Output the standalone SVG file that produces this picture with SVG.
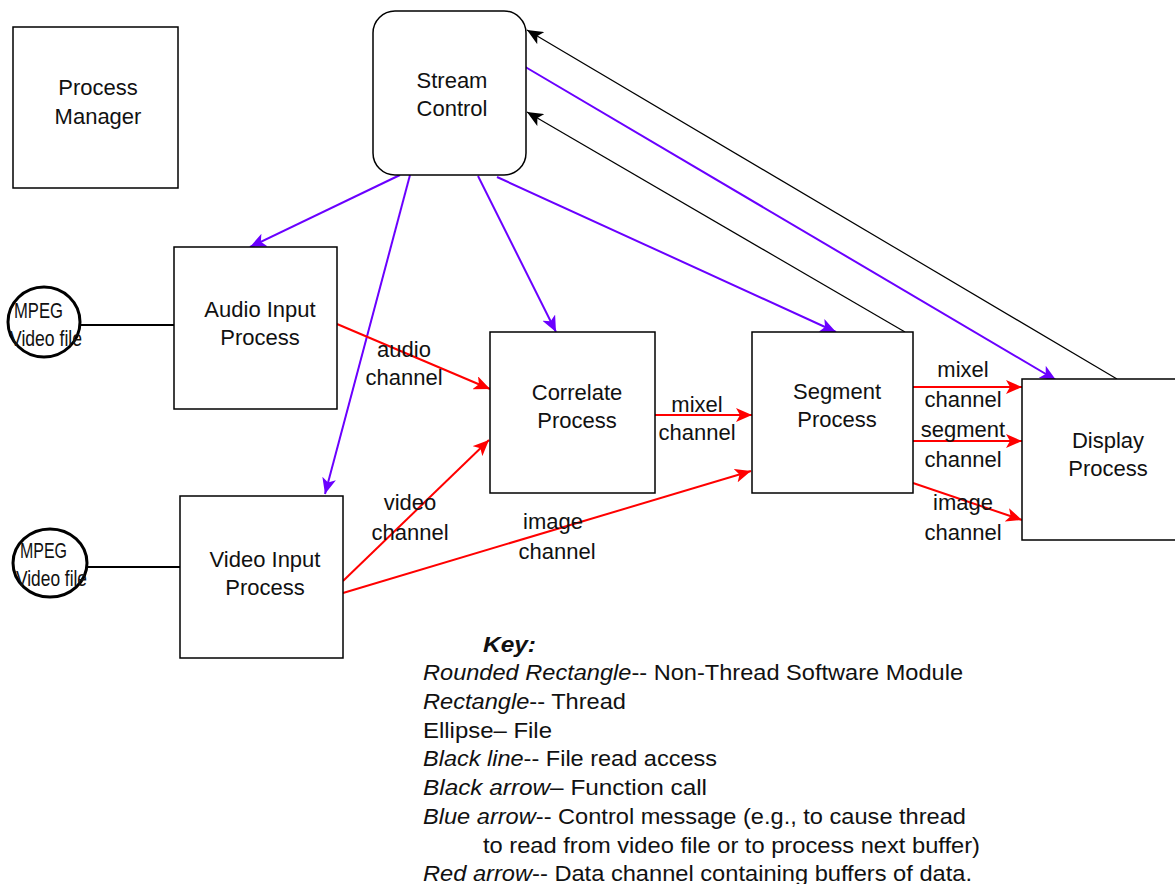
<svg xmlns="http://www.w3.org/2000/svg" width="1175" height="884" viewBox="0 0 1175 884">
<style>
.box{fill:#fff;stroke:#000;stroke-width:1.5}
.t{font-family:"Liberation Sans",Arial,sans-serif;font-size:22px;fill:#111;text-anchor:middle}
.k{font-family:"Liberation Sans",Arial,sans-serif;font-size:22px;fill:#111}
.i{font-style:italic}
.blue{stroke:#6a00ff;stroke-width:2;fill:none}
.red{stroke:#ff0000;stroke-width:2;fill:none}
.blk{stroke:#000;stroke-width:1.2;fill:none}
.fl{stroke:#000;stroke-width:2;fill:none}
.m{font-family:"Liberation Sans",Arial,sans-serif;font-size:22px;fill:#111}
</style>
<defs>
<marker id="ab" markerUnits="userSpaceOnUse" markerWidth="18" markerHeight="14" refX="16" refY="7" orient="auto"><path d="M0,0 L16,7 L0,14 L4,7 Z" fill="#6a00ff"/></marker>
<marker id="ar" markerUnits="userSpaceOnUse" markerWidth="18" markerHeight="14" refX="16" refY="7" orient="auto"><path d="M0,0 L16,7 L0,14 L4,7 Z" fill="#ff0000"/></marker>
<marker id="ak" markerUnits="userSpaceOnUse" markerWidth="18" markerHeight="14" refX="16" refY="7" orient="auto"><path d="M0,0 L16,7 L0,14 L4,7 Z" fill="#000"/></marker>
</defs>
<rect width="1175" height="884" fill="#fff"/>
<g id="connectors">
<line class="fl" x1="80" y1="325" x2="174" y2="325"/>
<line class="fl" x1="87" y1="567" x2="180" y2="567"/>
<line class="blue" x1="400" y1="175" x2="250" y2="247" marker-end="url(#ab)"/>
<line class="blue" x1="410" y1="175" x2="325" y2="494" marker-end="url(#ab)"/>
<line class="blue" x1="478" y1="176" x2="556" y2="332" marker-end="url(#ab)"/>
<line class="blue" x1="497" y1="177" x2="836" y2="332" marker-end="url(#ab)"/>
<line class="blue" x1="522" y1="65" x2="1056" y2="380" marker-end="url(#ab)"/>
<line class="blk" x1="1117" y1="379" x2="527" y2="30" marker-end="url(#ak)"/>
<line class="blk" x1="905" y1="332" x2="527" y2="112" marker-end="url(#ak)"/>
<line class="red" x1="337" y1="324" x2="490" y2="389" marker-end="url(#ar)"/>
<line class="red" x1="343" y1="581" x2="489" y2="440" marker-end="url(#ar)"/>
<line class="red" x1="343" y1="593" x2="751" y2="471" marker-end="url(#ar)"/>
<line class="red" x1="655" y1="415" x2="752" y2="415" marker-end="url(#ar)"/>
<line class="red" x1="913" y1="387" x2="1022" y2="387" marker-end="url(#ar)"/>
<line class="red" x1="913" y1="441" x2="1022" y2="441" marker-end="url(#ar)"/>
<line class="red" x1="913" y1="483" x2="1022" y2="520" marker-end="url(#ar)"/>
<text class="t" x="404" y="357">audio</text>
<text class="t" x="404" y="385">channel</text>
<text class="t" x="697" y="412">mixel</text>
<text class="t" x="697" y="440">channel</text>
<text class="t" x="410" y="510">video</text>
<text class="t" x="410" y="540">channel</text>
<text class="t" x="553" y="529">image</text>
<text class="t" x="557" y="559">channel</text>
<text class="t" x="963" y="377">mixel</text>
<text class="t" x="963" y="407">channel</text>
<text class="t" x="963" y="437">segment</text>
<text class="t" x="963" y="467">channel</text>
<text class="t" x="963" y="510">image</text>
<text class="t" x="963" y="540">channel</text>
</g>
<g id="process-manager">
<rect class="box" x="13" y="27" width="165" height="161"/>
<text class="t" x="98" y="95">Process</text>
<text class="t" x="98" y="124">Manager</text>
</g>
<g id="stream-control">
<rect class="box" x="373" y="11" width="153" height="164" rx="22"/>
<text class="t" x="452" y="88">Stream</text>
<text class="t" x="452" y="116">Control</text>
</g>
<g id="audio-input">
<rect class="box" x="174" y="247" width="163" height="162"/>
<text class="t" x="260" y="317">Audio Input</text>
<text class="t" x="260" y="345">Process</text>
</g>
<g id="video-input">
<rect class="box" x="180" y="496" width="163" height="162"/>
<text class="t" x="265" y="567">Video Input</text>
<text class="t" x="265" y="595">Process</text>
</g>
<g id="correlate">
<rect class="box" x="490" y="332" width="165" height="161"/>
<text class="t" x="577" y="400">Correlate</text>
<text class="t" x="577" y="428">Process</text>
</g>
<g id="segment">
<rect class="box" x="752" y="332" width="161" height="161"/>
<text class="t" x="837" y="399">Segment</text>
<text class="t" x="837" y="427">Process</text>
</g>
<g id="display">
<rect class="box" x="1022" y="379" width="160" height="161"/>
<text class="t" x="1108" y="448">Display</text>
<text class="t" x="1108" y="476">Process</text>
</g>
<g id="mpeg-audio">
<ellipse cx="44" cy="322" rx="36" ry="35" fill="#fff" stroke="#000" stroke-width="3"/>
<text class="m" x="14" y="318" textLength="49" lengthAdjust="spacingAndGlyphs">MPEG</text>
<text class="m" x="10" y="346" textLength="72" lengthAdjust="spacingAndGlyphs">Video file</text>
</g>
<g id="mpeg-video">
<ellipse cx="50" cy="563" rx="37" ry="34" fill="#fff" stroke="#000" stroke-width="3"/>
<text class="m" x="20" y="558" textLength="47" lengthAdjust="spacingAndGlyphs">MPEG</text>
<text class="m" x="16" y="586" textLength="71" lengthAdjust="spacingAndGlyphs">Video file</text>
</g>
<g id="key">
<text class="k" x="483" y="652" font-weight="bold" font-style="italic" textLength="53" lengthAdjust="spacingAndGlyphs">Key:</text>
<text class="k" x="423" y="680" textLength="540" lengthAdjust="spacingAndGlyphs"><tspan class="i">Rounded Rectangle</tspan>-- Non-Thread Software Module</text>
<text class="k" x="423" y="709" textLength="203" lengthAdjust="spacingAndGlyphs"><tspan class="i">Rectangle</tspan>-- Thread</text>
<text class="k" x="423" y="738" textLength="129" lengthAdjust="spacingAndGlyphs">Ellipse– File</text>
<text class="k" x="423" y="766" textLength="294" lengthAdjust="spacingAndGlyphs"><tspan class="i">Black line</tspan>-- File read access</text>
<text class="k" x="423" y="795" textLength="284" lengthAdjust="spacingAndGlyphs"><tspan class="i">Black arrow</tspan>– Function call</text>
<text class="k" x="423" y="824" textLength="543" lengthAdjust="spacingAndGlyphs"><tspan class="i">Blue arrow</tspan>-- Control message (e.g., to cause thread</text>
<text class="k" x="483" y="853" textLength="497" lengthAdjust="spacingAndGlyphs">to read from video file or to process next buffer)</text>
<text class="k" x="423" y="881" textLength="549" lengthAdjust="spacingAndGlyphs"><tspan class="i">Red arrow</tspan>-- Data channel containing buffers of data.</text>
</g>
</svg>
